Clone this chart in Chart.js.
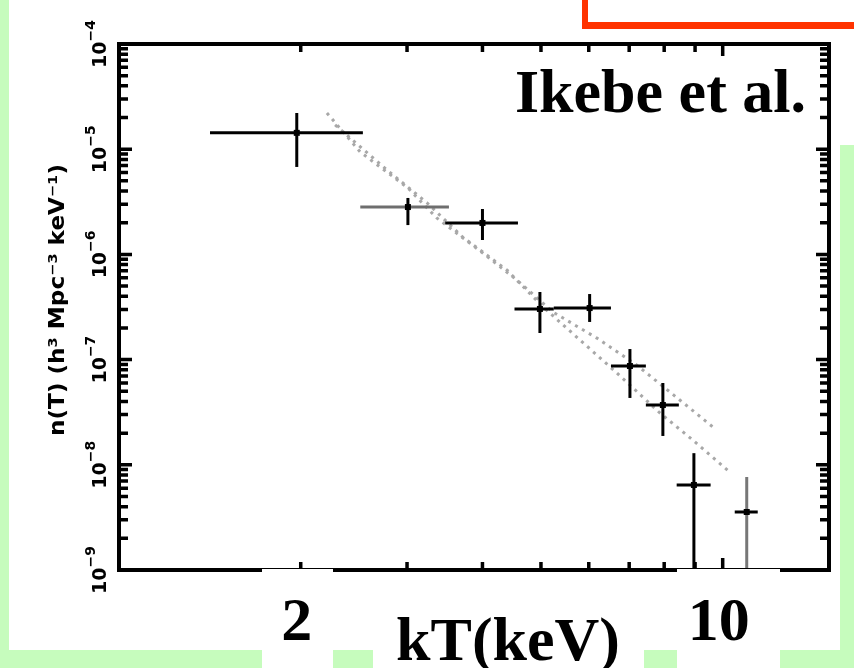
<!DOCTYPE html>
<html>
<head>
<meta charset="utf-8">
<script src="https://cdn.jsdelivr.net/npm/chart.js@4"></script>
<style>
html, body { margin: 0; padding: 0; background: #fff; }
#wrap { width: 854px; height: 668px; }
</style>
</head>
<body>
<div id="wrap"><canvas id="tfChart" width="854" height="668"></canvas></div>
<script>
// Temperature function: binned measurements (kT in keV, n(T) per keV)
const kT   = [1.97, 3.01, 4.00, 4.98, 6.02, 7.02, 7.96, 8.96, 10.96];
const kTlo = [1.415, 2.51, 3.47, 4.52, 5.25, 6.53, 7.46, 8.39, 10.47];
const kThi = [2.535, 3.52, 4.58, 5.25, 6.53, 7.46, 8.46, 9.55, 11.43];
const nT   = [1.43e-5, 2.82e-6, 1.99e-6, 3.03e-7, 3.09e-7, 8.69e-8, 3.70e-8, 6.43e-9, 3.56e-9];
const nTlo = [6.78e-6, 1.90e-6, 1.37e-6, 1.79e-7, 2.28e-7, 4.32e-8, 1.88e-8, 1e-10, 1e-10];
const nThi = [2.21e-5, 3.44e-6, 2.70e-6, 4.39e-7, 4.20e-7, 1.26e-7, 5.99e-8, 1.29e-8, 7.66e-9];

// Model curves
const modelAkT = [2.21, 2.51, 3.01, 3.36, 4.005, 4.56, 5.23, 6.19, 7.20, 8.49, 9.63];
const modelAn  = [2.21e-5, 9.4e-6, 4.28e-6, 2.22e-6, 1.03e-6, 5.71e-7, 2.84e-7, 1.60e-7, 8.89e-8, 4.13e-8, 2.29e-8];
const modelBkT = [2.28, 2.78, 3.24, 3.71, 4.39, 5.04, 5.80, 6.68, 7.87, 8.92, 10.27];
const modelBn  = [1.70e-5, 6.34e-6, 3.08e-6, 1.46e-6, 7.11e-7, 3.16e-7, 1.54e-7, 7.46e-8, 3.11e-8, 1.72e-8, 8.54e-9];

// Axis ticks and labels
const xTickVals = [2, 3, 4, 5, 6, 7, 8, 9, 10];
const xLabels = [{ v: 2, text: '2' }, { v: 10, text: '10' }];
const yDecades = [-9, -8, -7, -6, -5, -4];
const xTitle = 'kT(keV)';
const yTitle = 'n(T) (h\u00B3 Mpc\u207B\u00B3 keV\u207B\u00B9)';
const tag = 'Ikebe et al.';

// bins drawn with a grey horizontal / vertical bar
const greyXBar = new Set([1]);
const greyYBar = new Set([8]);

const GREEN = '#c6fcbd';
const SERIF = '"Liberation Serif", "DejaVu Serif", serif';
const SANS = '"DejaVu Sans", sans-serif';

const framePlugin = {
    id: 'frame',
    beforeDraw(chart) {
        const ctx = chart.ctx;
        ctx.save();
        ctx.fillStyle = '#fff';
        ctx.fillRect(0, 0, 854, 668);
        // green page edges
        ctx.fillStyle = GREEN;
        ctx.fillRect(0, 0, 9, 668);
        ctx.fillRect(0, 650, 854, 18);
        ctx.fillRect(840, 145, 14, 523);
        // red box corner
        ctx.fillStyle = '#ff3300';
        ctx.fillRect(582, 0, 6, 29);
        ctx.fillRect(582, 22, 272, 7);
        ctx.restore();
    },
    afterDatasetsDraw(chart) {
        const ctx = chart.ctx;
        const a = chart.chartArea;
        const x = chart.scales.x, y = chart.scales.y;

        // error bars
        ctx.save();
        ctx.beginPath();
        ctx.rect(a.left, a.top, a.right - a.left, a.bottom - a.top);
        ctx.clip();
        ctx.lineWidth = 3;
        kT.forEach((v, i) => {
            const px = x.getPixelForValue(v), py = y.getPixelForValue(nT[i]);
            ctx.strokeStyle = greyXBar.has(i) ? '#6e6e6e' : '#000';
            ctx.beginPath();
            ctx.moveTo(x.getPixelForValue(kTlo[i]), py);
            ctx.lineTo(x.getPixelForValue(kThi[i]), py);
            ctx.stroke();
            ctx.strokeStyle = greyYBar.has(i) ? '#777' : '#000';
            ctx.beginPath();
            ctx.moveTo(px, y.getPixelForValue(nThi[i]));
            ctx.lineTo(px, y.getPixelForValue(nTlo[i]));
            ctx.stroke();
            ctx.fillStyle = '#000';
            ctx.fillRect(px - 3, py - 3, 6, 6);
        });
        ctx.restore();

        // frame
        ctx.save();
        ctx.strokeStyle = '#000';
        ctx.lineWidth = 4;
        ctx.strokeRect(a.left, a.top, a.right - a.left, a.bottom - a.top);
        ctx.lineWidth = 3.5;
        ctx.beginPath();
        xTickVals.forEach(v => {
            const px = x.getPixelForValue(v);
            const len = v === 10 ? 12 : 8;
            ctx.moveTo(px, a.top); ctx.lineTo(px, a.top + len);
            ctx.moveTo(px, a.bottom); ctx.lineTo(px, a.bottom - len);
        });
        yDecades.forEach(d => {
            for (let m = 1; m <= 9; m++) {
                if (d === -4 && m > 1) break;
                const py = y.getPixelForValue(m * Math.pow(10, d));
                const len = m === 1 ? 13 : 9;
                ctx.moveTo(a.left, py); ctx.lineTo(a.left + len, py);
                ctx.moveTo(a.right, py); ctx.lineTo(a.right - len, py);
            }
        });
        ctx.stroke();

        // y tick labels, rotated
        ctx.fillStyle = '#000';
        yDecades.forEach(d => {
            const py = y.getPixelForValue(Math.pow(10, d));
            ctx.save();
            ctx.translate(106, py);
            ctx.rotate(-Math.PI / 2);
            ctx.textBaseline = 'alphabetic';
            ctx.font = 'bold 19px ' + SANS;
            const w1 = ctx.measureText('10').width;
            ctx.font = 'bold 14px ' + SANS;
            const sup = '\u2212' + Math.abs(d);
            const w2 = ctx.measureText(sup).width;
            const x0 = -(w1 + w2) / 2;
            ctx.font = 'bold 19px ' + SANS;
            ctx.fillText('10', x0, 0);
            ctx.font = 'bold 14px ' + SANS;
            ctx.fillText(sup, x0 + w1, -11);
            ctx.restore();
        });

        // y title, fitted along the axis
        ctx.save();
        ctx.translate(64, 300);
        ctx.rotate(-Math.PI / 2);
        ctx.font = 'bold 22px ' + SANS;
        const tw = ctx.measureText(yTitle).width;
        ctx.scale(272 / tw, 1);
        ctx.textAlign = 'center';
        ctx.fillText(yTitle, 0, 0);
        ctx.restore();

        // x labels sit in white boxes over the bottom edge
        ctx.fillStyle = '#fff';
        ctx.fillRect(262, 569, 71, 100);
        ctx.fillRect(677, 569, 103, 100);
        ctx.fillRect(373, 590, 271, 78);
        ctx.fillStyle = '#000';
        ctx.font = 'bold 62px ' + SERIF;
        ctx.textAlign = 'center';
        ctx.textBaseline = 'alphabetic';
        xLabels.forEach(l => {
            const px = x.getPixelForValue(l.v);
            ctx.fillText(l.text, px - 4, 640);
        });
        ctx.fillText(xTitle, 508, 660);

        ctx.textAlign = 'right';
        ctx.fillText(tag, 806, 112);
        ctx.restore();
    }
};

const dotted = {
    showLine: true,
    pointRadius: 0,
    borderColor: '#a8a8a8',
    borderWidth: 3,
    borderDash: [3, 5],
    fill: false
};

new Chart(document.getElementById('tfChart'), {
    type: 'scatter',
    data: {
        datasets: [
            Object.assign({ label: 'model A', data: modelAkT.map((v, i) => ({ x: v, y: modelAn[i] })) }, dotted),
            Object.assign({ label: 'model B', data: modelBkT.map((v, i) => ({ x: v, y: modelBn[i] })) }, dotted),
            {
                label: 'n(T)',
                data: kT.map((v, i) => ({ x: v, y: nT[i] })),
                pointStyle: 'rect',
                pointRadius: 3,
                backgroundColor: '#000',
                borderColor: '#000',
                borderWidth: 0
            }
        ]
    },
    options: {
        responsive: false,
        devicePixelRatio: 1,
        animation: false,
        layout: { padding: { left: 119, top: 44, right: 25, bottom: 98 } },
        plugins: { legend: { display: false }, tooltip: { enabled: false } },
        scales: {
            x: { type: 'logarithmic', min: 1, max: 15, display: false },
            y: { type: 'logarithmic', min: 1e-9, max: 1e-4, display: false }
        }
    },
    plugins: [framePlugin]
});
</script>
</body>
</html>
